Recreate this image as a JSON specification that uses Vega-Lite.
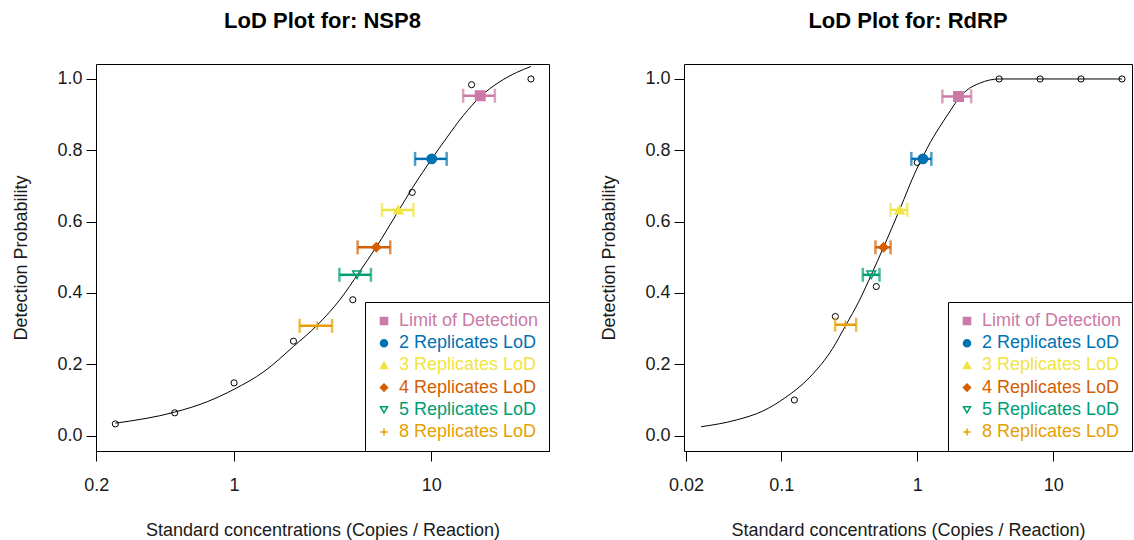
{
  "$schema": "https://vega.github.io/schema/vega-lite/v6.json",
  "background": "white",
  "autosize": {"type": "pad"},
  "padding": {"left": 11, "top": 9, "right": 0, "bottom": 0},
  "spacing": 49,
  "datasets": {
    "nsp8_obs": [
      {"conc": 0.25, "prob": 0.033}, {"conc": 0.5, "prob": 0.064}, {"conc": 1, "prob": 0.148},
      {"conc": 2, "prob": 0.265}, {"conc": 4, "prob": 0.381}, {"conc": 8, "prob": 0.682},
      {"conc": 16, "prob": 0.984}, {"conc": 32, "prob": 1.0}
    ],
    "nsp8_fit": [
      {"conc": 0.25, "prob": 0.035}, {"conc": 0.5, "prob": 0.066}, {"conc": 0.73, "prob": 0.095},
      {"conc": 1, "prob": 0.13}, {"conc": 1.42, "prob": 0.18}, {"conc": 2, "prob": 0.25},
      {"conc": 2.64, "prob": 0.31}, {"conc": 3.46, "prob": 0.383}, {"conc": 4.28, "prob": 0.456},
      {"conc": 5.26, "prob": 0.529}, {"conc": 6.81, "prob": 0.63}, {"conc": 8.05, "prob": 0.696},
      {"conc": 10.05, "prob": 0.776}, {"conc": 11.96, "prob": 0.835}, {"conc": 14.5, "prob": 0.897},
      {"conc": 17.7, "prob": 0.95}, {"conc": 22.2, "prob": 0.992}, {"conc": 27, "prob": 1.018},
      {"conc": 32, "prob": 1.035}
    ],
    "nsp8_lod": [
      {"series": "Limit of Detection", "conc": 17.7, "lo": 14.5, "hi": 21.0, "prob": 0.953},
      {"series": "2 Replicates LoD", "conc": 10.05, "lo": 8.27, "hi": 11.96, "prob": 0.776},
      {"series": "3 Replicates LoD", "conc": 6.81, "lo": 5.62, "hi": 8.11, "prob": 0.633},
      {"series": "4 Replicates LoD", "conc": 5.26, "lo": 4.23, "hi": 6.19, "prob": 0.528},
      {"series": "5 Replicates LoD", "conc": 4.2, "lo": 3.42, "hi": 4.94, "prob": 0.451},
      {"series": "8 Replicates LoD", "conc": 2.64, "lo": 2.15, "hi": 3.14, "prob": 0.308}
    ],
    "rdrp_obs": [
      {"conc": 0.125, "prob": 0.1}, {"conc": 0.25, "prob": 0.334}, {"conc": 0.5, "prob": 0.418},
      {"conc": 1, "prob": 0.766}, {"conc": 4, "prob": 1.0}, {"conc": 8, "prob": 1.0},
      {"conc": 16, "prob": 1.0}, {"conc": 32, "prob": 1.0}
    ],
    "rdrp_fit": [
      {"conc": 0.0258, "prob": 0.025}, {"conc": 0.0468, "prob": 0.044}, {"conc": 0.0733, "prob": 0.069},
      {"conc": 0.1057, "prob": 0.105}, {"conc": 0.1614, "prob": 0.163}, {"conc": 0.2393, "prob": 0.245},
      {"conc": 0.2958, "prob": 0.307}, {"conc": 0.3767, "prob": 0.38}, {"conc": 0.4592, "prob": 0.451},
      {"conc": 0.5649, "prob": 0.528}, {"conc": 0.7413, "prob": 0.633}, {"conc": 0.984, "prob": 0.745},
      {"conc": 1.099, "prob": 0.782}, {"conc": 1.259, "prob": 0.825}, {"conc": 1.459, "prob": 0.865},
      {"conc": 1.778, "prob": 0.915}, {"conc": 2.014, "prob": 0.945}, {"conc": 2.291, "prob": 0.967},
      {"conc": 2.871, "prob": 0.988}, {"conc": 4, "prob": 1.0}, {"conc": 8, "prob": 1.0},
      {"conc": 16, "prob": 1.0}, {"conc": 32, "prob": 1.0}
    ],
    "rdrp_lod": [
      {"series": "Limit of Detection", "conc": 2.01, "lo": 1.53, "hi": 2.49, "prob": 0.951},
      {"series": "2 Replicates LoD", "conc": 1.1, "lo": 0.905, "hi": 1.27, "prob": 0.776},
      {"series": "3 Replicates LoD", "conc": 0.741, "lo": 0.637, "hi": 0.844, "prob": 0.633},
      {"series": "4 Replicates LoD", "conc": 0.565, "lo": 0.493, "hi": 0.637, "prob": 0.528},
      {"series": "5 Replicates LoD", "conc": 0.459, "lo": 0.398, "hi": 0.528, "prob": 0.451},
      {"series": "8 Replicates LoD", "conc": 0.296, "lo": 0.249, "hi": 0.356, "prob": 0.311}
    ]
  },
  "hconcat": [
    {
      "width": 453,
      "height": 387,
      "title": {"text": "LoD Plot for: NSP8"},
      "layer": [
        {
          "data": {"name": "nsp8_fit"},
          "mark": {"type": "line", "color": "black", "strokeWidth": 1, "interpolate": "monotone"},
          "encoding": {
            "x": {"field": "conc", "type": "quantitative", "title": "Standard concentrations (Copies / Reaction)",
                  "scale": {"type": "log", "domain": [0.1995, 39.5], "nice": false},
                  "axis": {"values": [0.2, 1, 10], "format": "~g", "labelFlush": false, "labelPadding": 15, "titleY": 84, "titleBaseline": "alphabetic"}},
            "y": {"field": "prob", "type": "quantitative", "title": "Detection Probability",
                  "scale": {"domain": [-0.043, 1.042], "nice": false, "zero": false},
                  "axis": {"values": [0, 0.2, 0.4, 0.6, 0.8, 1], "format": ".1f", "labelPadding": 4, "titleX": -70, "titleY": 193.5, "titleAngle": -90, "titleBaseline": "alphabetic", "titleAlign": "center"}}
          }
        },
        {
          "data": {"name": "nsp8_obs"},
          "mark": {"type": "point", "shape": "circle", "filled": false, "color": "black", "strokeWidth": 1, "size": 38, "opacity": 1},
          "encoding": {
            "x": {"field": "conc", "type": "quantitative", "title": "Standard concentrations (Copies / Reaction)"},
            "y": {"field": "prob", "type": "quantitative", "title": "Detection Probability"}
          }
        },
        {
          "data": {"name": "nsp8_lod"},
          "mark": {"type": "errorbar", "thickness": 2.5, "ticks": {"size": 14, "thickness": 2.5}},
          "encoding": {
            "x": {"field": "lo", "type": "quantitative", "title": "Standard concentrations (Copies / Reaction)"},
            "x2": {"field": "hi"},
            "y": {"field": "prob", "type": "quantitative", "title": "Detection Probability"},
            "color": {"field": "series", "type": "nominal", "legend": null,
                      "scale": {"domain": ["Limit of Detection", "2 Replicates LoD", "3 Replicates LoD", "4 Replicates LoD", "5 Replicates LoD", "8 Replicates LoD"],
                                "range": ["#CC79A7", "#0072B2", "#F0E442", "#D55E00", "#009E73", "#E69F00"]}}
          }
        },
        {
          "data": {"name": "nsp8_lod"},
          "mark": {"type": "point", "filled": true, "strokeWidth": 1.5, "opacity": 1},
          "encoding": {
            "x": {"field": "conc", "type": "quantitative", "title": "Standard concentrations (Copies / Reaction)"},
            "y": {"field": "prob", "type": "quantitative", "title": "Detection Probability"},
            "fill": {"field": "series", "type": "nominal",
                     "scale": {"domain": ["Limit of Detection", "2 Replicates LoD", "3 Replicates LoD", "4 Replicates LoD", "5 Replicates LoD", "8 Replicates LoD"],
                               "range": ["#CC79A7", "#0072B2", "#F0E442", "#D55E00", "transparent", "transparent"]},
                     "legend": {"title": null, "orient": "bottom-right", "offset": 0, "padding": 10, "strokeColor": "black", "fillColor": "white", "labelFontSize": 18, "labelFont": "Liberation Sans", "labelOffset": 6, "rowPadding": 4.2, "symbolSize": 50, "symbolStrokeWidth": 1.5, "labelLimit": 300,
                                "labelColor": {"expr": "datum.label == 'Limit of Detection' ? '#CC79A7' : datum.label == '2 Replicates LoD' ? '#0072B2' : datum.label == '3 Replicates LoD' ? '#F0E442' : datum.label == '4 Replicates LoD' ? '#D55E00' : datum.label == '5 Replicates LoD' ? '#009E73' : '#E69F00'"}}},
            "stroke": {"field": "series", "type": "nominal",
                       "scale": {"domain": ["Limit of Detection", "2 Replicates LoD", "3 Replicates LoD", "4 Replicates LoD", "5 Replicates LoD", "8 Replicates LoD"],
                                 "range": ["#CC79A7", "#0072B2", "#F0E442", "#D55E00", "#009E73", "#E69F00"]},
                       "legend": {"title": null, "orient": "bottom-right", "offset": 0, "padding": 10, "strokeColor": "black", "fillColor": "white", "labelFontSize": 18, "labelFont": "Liberation Sans", "labelOffset": 6, "rowPadding": 4.2, "symbolSize": 50, "symbolStrokeWidth": 1.5, "labelLimit": 300,
                                  "labelColor": {"expr": "datum.label == 'Limit of Detection' ? '#CC79A7' : datum.label == '2 Replicates LoD' ? '#0072B2' : datum.label == '3 Replicates LoD' ? '#F0E442' : datum.label == '4 Replicates LoD' ? '#D55E00' : datum.label == '5 Replicates LoD' ? '#009E73' : '#E69F00'"}}},
            "shape": {"field": "series", "type": "nominal",
                      "scale": {"domain": ["Limit of Detection", "2 Replicates LoD", "3 Replicates LoD", "4 Replicates LoD", "5 Replicates LoD", "8 Replicates LoD"],
                                "range": ["square", "circle", "triangle-up", "diamond", "triangle-down", "M-1,0L1,0M0,-1L0,1"]},
                      "legend": {"title": null, "orient": "bottom-right", "offset": 0, "padding": 10, "strokeColor": "black", "fillColor": "white", "labelFontSize": 18, "labelFont": "Liberation Sans", "labelOffset": 6, "rowPadding": 4.2, "symbolSize": 50, "symbolStrokeWidth": 1.5, "labelLimit": 300,
                                 "labelColor": {"expr": "datum.label == 'Limit of Detection' ? '#CC79A7' : datum.label == '2 Replicates LoD' ? '#0072B2' : datum.label == '3 Replicates LoD' ? '#F0E442' : datum.label == '4 Replicates LoD' ? '#D55E00' : datum.label == '5 Replicates LoD' ? '#009E73' : '#E69F00'"}}},
            "size": {"field": "series", "type": "nominal", "legend": null,
                     "scale": {"domain": ["Limit of Detection", "2 Replicates LoD", "3 Replicates LoD", "4 Replicates LoD", "5 Replicates LoD", "8 Replicates LoD"],
                               "range": [90, 70, 80, 45, 80, 100]}}
          }
        }
      ]
    },
    {
      "width": 448,
      "height": 387,
      "title": {"text": "LoD Plot for: RdRP"},
      "layer": [
        {
          "data": {"name": "rdrp_fit"},
          "mark": {"type": "line", "color": "black", "strokeWidth": 1, "interpolate": "monotone"},
          "encoding": {
            "x": {"field": "conc", "type": "quantitative", "title": "Standard concentrations (Copies / Reaction)",
                  "scale": {"type": "log", "domain": [0.0193, 37.9], "nice": false},
                  "axis": {"values": [0.02, 0.1, 1, 10], "format": "~g", "labelFlush": false, "labelPadding": 15, "titleY": 84, "titleBaseline": "alphabetic"}},
            "y": {"field": "prob", "type": "quantitative", "title": "Detection Probability",
                  "scale": {"domain": [-0.043, 1.042], "nice": false, "zero": false},
                  "axis": {"values": [0, 0.2, 0.4, 0.6, 0.8, 1], "format": ".1f", "labelPadding": 4, "titleX": -70, "titleY": 193.5, "titleAngle": -90, "titleBaseline": "alphabetic", "titleAlign": "center"}}
          }
        },
        {
          "data": {"name": "rdrp_obs"},
          "mark": {"type": "point", "shape": "circle", "filled": false, "color": "black", "strokeWidth": 1, "size": 38, "opacity": 1},
          "encoding": {
            "x": {"field": "conc", "type": "quantitative", "title": "Standard concentrations (Copies / Reaction)"},
            "y": {"field": "prob", "type": "quantitative", "title": "Detection Probability"}
          }
        },
        {
          "data": {"name": "rdrp_lod"},
          "mark": {"type": "errorbar", "thickness": 2.5, "ticks": {"size": 14, "thickness": 2.5}},
          "encoding": {
            "x": {"field": "lo", "type": "quantitative", "title": "Standard concentrations (Copies / Reaction)"},
            "x2": {"field": "hi"},
            "y": {"field": "prob", "type": "quantitative", "title": "Detection Probability"},
            "color": {"field": "series", "type": "nominal", "legend": null,
                      "scale": {"domain": ["Limit of Detection", "2 Replicates LoD", "3 Replicates LoD", "4 Replicates LoD", "5 Replicates LoD", "8 Replicates LoD"],
                                "range": ["#CC79A7", "#0072B2", "#F0E442", "#D55E00", "#009E73", "#E69F00"]}}
          }
        },
        {
          "data": {"name": "rdrp_lod"},
          "mark": {"type": "point", "filled": true, "strokeWidth": 1.5, "opacity": 1},
          "encoding": {
            "x": {"field": "conc", "type": "quantitative", "title": "Standard concentrations (Copies / Reaction)"},
            "y": {"field": "prob", "type": "quantitative", "title": "Detection Probability"},
            "fill": {"field": "series", "type": "nominal",
                     "scale": {"domain": ["Limit of Detection", "2 Replicates LoD", "3 Replicates LoD", "4 Replicates LoD", "5 Replicates LoD", "8 Replicates LoD"],
                               "range": ["#CC79A7", "#0072B2", "#F0E442", "#D55E00", "transparent", "transparent"]},
                     "legend": {"title": null, "orient": "bottom-right", "offset": 0, "padding": 10, "strokeColor": "black", "fillColor": "white", "labelFontSize": 18, "labelFont": "Liberation Sans", "labelOffset": 6, "rowPadding": 4.2, "symbolSize": 50, "symbolStrokeWidth": 1.5, "labelLimit": 300,
                                "labelColor": {"expr": "datum.label == 'Limit of Detection' ? '#CC79A7' : datum.label == '2 Replicates LoD' ? '#0072B2' : datum.label == '3 Replicates LoD' ? '#F0E442' : datum.label == '4 Replicates LoD' ? '#D55E00' : datum.label == '5 Replicates LoD' ? '#009E73' : '#E69F00'"}}},
            "stroke": {"field": "series", "type": "nominal",
                       "scale": {"domain": ["Limit of Detection", "2 Replicates LoD", "3 Replicates LoD", "4 Replicates LoD", "5 Replicates LoD", "8 Replicates LoD"],
                                 "range": ["#CC79A7", "#0072B2", "#F0E442", "#D55E00", "#009E73", "#E69F00"]},
                       "legend": {"title": null, "orient": "bottom-right", "offset": 0, "padding": 10, "strokeColor": "black", "fillColor": "white", "labelFontSize": 18, "labelFont": "Liberation Sans", "labelOffset": 6, "rowPadding": 4.2, "symbolSize": 50, "symbolStrokeWidth": 1.5, "labelLimit": 300,
                                  "labelColor": {"expr": "datum.label == 'Limit of Detection' ? '#CC79A7' : datum.label == '2 Replicates LoD' ? '#0072B2' : datum.label == '3 Replicates LoD' ? '#F0E442' : datum.label == '4 Replicates LoD' ? '#D55E00' : datum.label == '5 Replicates LoD' ? '#009E73' : '#E69F00'"}}},
            "shape": {"field": "series", "type": "nominal",
                      "scale": {"domain": ["Limit of Detection", "2 Replicates LoD", "3 Replicates LoD", "4 Replicates LoD", "5 Replicates LoD", "8 Replicates LoD"],
                                "range": ["square", "circle", "triangle-up", "diamond", "triangle-down", "M-1,0L1,0M0,-1L0,1"]},
                      "legend": {"title": null, "orient": "bottom-right", "offset": 0, "padding": 10, "strokeColor": "black", "fillColor": "white", "labelFontSize": 18, "labelFont": "Liberation Sans", "labelOffset": 6, "rowPadding": 4.2, "symbolSize": 50, "symbolStrokeWidth": 1.5, "labelLimit": 300,
                                 "labelColor": {"expr": "datum.label == 'Limit of Detection' ? '#CC79A7' : datum.label == '2 Replicates LoD' ? '#0072B2' : datum.label == '3 Replicates LoD' ? '#F0E442' : datum.label == '4 Replicates LoD' ? '#D55E00' : datum.label == '5 Replicates LoD' ? '#009E73' : '#E69F00'"}}},
            "size": {"field": "series", "type": "nominal", "legend": null,
                     "scale": {"domain": ["Limit of Detection", "2 Replicates LoD", "3 Replicates LoD", "4 Replicates LoD", "5 Replicates LoD", "8 Replicates LoD"],
                               "range": [90, 70, 80, 45, 80, 100]}}
          }
        }
      ]
    }
  ],
  "resolve": {
    "scale": {"x": "independent", "y": "independent"},
    "axis": {"x": "independent", "y": "independent"},
    "legend": {"fill": "independent", "stroke": "independent", "shape": "independent"}
  },
  "config": {
    "font": "Liberation Sans",
    "view": {"stroke": "black", "strokeWidth": 1},
    "axis": {"grid": false, "domain": false, "ticks": true, "tickColor": "#000000", "tickSize": 10, "tickWidth": 1,
             "labelFont": "Liberation Sans", "labelFontSize": 18, "labelColor": "#1a1a1a",
             "titleFont": "Liberation Sans", "titleFontSize": 18, "titleFontWeight": "normal", "titleColor": "#1a1a1a"},
    "title": {"font": "Liberation Sans", "fontSize": 22, "fontWeight": "bold", "color": "#000000", "anchor": "middle", "frame": "group", "baseline": "alphabetic", "offset": 31}
  }
}
